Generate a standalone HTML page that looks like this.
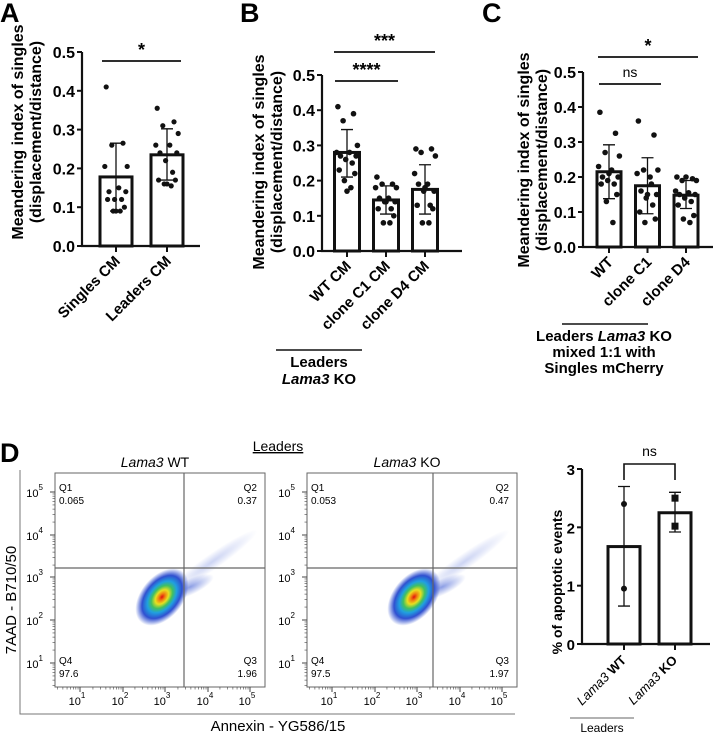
<!DOCTYPE html>
<html><head><meta charset="utf-8"><style>
body{margin:0;background:#fff}
svg{display:block;font-family:"Liberation Sans",Arial,sans-serif}
.t{font-weight:bold;font-size:16px}
.tk{font-weight:bold;font-size:16px}
.xk{font-weight:bold;font-size:15px}
.f{font-size:10px}
</style></head><body>
<svg id="s" width="713" height="735" viewBox="0 0 713 735">
<defs>
<radialGradient id="cloud">
<stop offset="0" stop-color="#e01010"/>
<stop offset="0.12" stop-color="#f08010"/>
<stop offset="0.25" stop-color="#e8e020"/>
<stop offset="0.4" stop-color="#40c060"/>
<stop offset="0.55" stop-color="#20a0e0"/>
<stop offset="0.75" stop-color="#3050d0"/>
<stop offset="1" stop-color="#3050d0" stop-opacity="0"/>
</radialGradient>
<radialGradient id="tail">
<stop offset="0" stop-color="#3050d0" stop-opacity="0.7"/>
<stop offset="1" stop-color="#3050d0" stop-opacity="0"/>
</radialGradient>
</defs>
<g font-weight="bold" font-size="27">
<text x="0" y="22">A</text>
<text x="240" y="22">B</text>
<text x="482" y="22">C</text>
<text x="0" y="462">D</text>
</g>
<g id="g"></g>
</svg>
<script>
// ---- Panel A data
const aCats=["Singles CM","Leaders CM"];
const aMeans=[0.178,0.235];
const aLo=[0.09,0.17];
const aHi=[0.265,0.302];
const aPts=[[0.41,0.265,0.26,0.205,0.205,0.15,0.14,0.14,0.12,0.12,0.12,0.1,0.09,0.09,0.09],
[0.355,0.32,0.31,0.29,0.26,0.26,0.24,0.24,0.22,0.19,0.17,0.17,0.16,0.155,0.16]];
// ---- Panel B data
const bCats=["WT CM","clone C1 CM","clone D4 CM"];
const bMeans=[0.28,0.145,0.175];
const bLo=[0.21,0.105,0.105];
const bHi=[0.345,0.185,0.245];
const bPts=[[0.41,0.39,0.37,0.3,0.28,0.28,0.27,0.27,0.26,0.25,0.23,0.22,0.2,0.18,0.17],
[0.21,0.19,0.19,0.18,0.18,0.15,0.15,0.14,0.14,0.12,0.12,0.1,0.08,0.08,0.14],
[0.29,0.29,0.28,0.27,0.22,0.19,0.19,0.17,0.17,0.13,0.13,0.12,0.08,0.08,0.18]];
// ---- Panel C data
const cCats=["WT","clone C1","clone D4"];
const cMeans=[0.215,0.175,0.148];
const cLo=[0.138,0.095,0.11];
const cHi=[0.292,0.255,0.19];
const cPts=[[0.385,0.325,0.27,0.26,0.23,0.22,0.2,0.2,0.19,0.18,0.18,0.15,0.13,0.07,0.21],
[0.36,0.32,0.22,0.22,0.21,0.2,0.16,0.15,0.14,0.12,0.1,0.08,0.07,0.18,0.15],
[0.2,0.195,0.19,0.19,0.16,0.155,0.15,0.15,0.14,0.13,0.12,0.09,0.08,0.07,0.2]];
const yTicks=[0,0.1,0.2,0.3,0.4,0.5];
// ---- Panel D bar data
const dCats=["WT","KO"];
const dMeans=[1.67,2.25];
const dLo=[0.65,1.92];
const dHi=[2.7,2.6];
const dPts=[[2.4,0.95],[2.5,2.02]];
const dTicks=[0,1,2,3];
// ---- Flow quadrant values
const flowQ=[["0.065","0.37","97.6","1.96"],["0.053","0.47","97.5","1.97"]];

const NS="http://www.w3.org/2000/svg";
const G=document.getElementById('g');
function el(tag,at,parent,txt){const e=document.createElementNS(NS,tag);for(const k in at)e.setAttribute(k,at[k]);if(txt!==undefined)e.textContent=txt;(parent||G).appendChild(e);return e;}
const jit=[-7,5,-3,8,-8,2,-5,7,-1,4,-6,6,-2,3,0];

function barPanel(o){
  const g=el('g',{});
  
  
  const y=v=>o.y0-(v-o.vmin)/(o.vmax-o.vmin)*(o.y0-o.y1);
  const x=i=>o.xs+i*o.step;
  const ax=el('path',{d:`M${o.ax} ${y(o.vmax)}V${o.y0}H${o.xEnd}`,stroke:'#111','stroke-width':2.2,fill:'none'},g);
  
  o.ticks.forEach(t=>{
    el('line',{x1:o.ax-5,x2:o.ax,y1:y(t),y2:y(t),stroke:'#111','stroke-width':2},g);
    const lb=el('text',{x:o.ax-7,y:y(t)+6,'text-anchor':'end',class:o.tcls||'tk'},g,o.tf(t));
    
  });
  o.means.forEach((m,i)=>{
    const cx=x(i);
    const b=el('rect',{x:cx-o.bw/2,y:y(m),width:o.bw,height:o.y0-y(m),fill:'#fff',stroke:'#111','stroke-width':3},g);
    
    el('line',{x1:cx,x2:cx,y1:o.y0,y2:o.y0+6,stroke:'#111','stroke-width':2},g);
    el('path',{d:`M${cx} ${y(o.lo[i])}V${y(o.hi[i])}M${cx-6} ${y(o.lo[i])}h12M${cx-6} ${y(o.hi[i])}h12`,stroke:'#111','stroke-width':1.3,fill:'none'},g);
    o.pts[i].forEach((p,k)=>{
      const d=el('circle',{cx:cx+(o.noj?0:jit[k%15]*o.js),cy:y(p),r:o.r||2.6,fill:'#111'},g);
      
    });
  });
  return {g,x,y};
}
function xLabel(g,x,y,txt){const t=el('text',{x:x,y:y,'text-anchor':'end',class:'xk',transform:`rotate(-45 ${x} ${y})`},g,txt);return t;}
function yTitle(g,cx,cy,l1,l2){
  const t=el('text',{transform:`translate(${cx},${cy}) rotate(-90)`,'text-anchor':'middle',class:'t'},g);
  
  el('tspan',{x:0,y:0},t,l1);el('tspan',{x:0,y:18},t,l2);
}
function sig(g,x1,x2,yy,txt,big){
  el('line',{x1:x1,x2:x2,y1:yy,y2:yy,stroke:'#111','stroke-width':1.8},g);
  const t=el('text',{x:(x1+x2)/2,y:yy-(big?5:7),'text-anchor':'middle','font-size':big?18:14,'font-weight':big?'bold':'normal'},g,txt);
  
}
const f1=t=>t.toFixed(1);

// A
let A=barPanel({name:'panel-a-chart',y0:246,y1:52,vmin:0,vmax:0.5,ax:82,xEnd:200,xs:116,step:51,bw:32,means:aMeans,lo:aLo,hi:aHi,pts:aPts,ticks:yTicks,tf:f1,js:1.4});
yTitle(A.g,23,132,"Meandering index of singles","(displacement/distance)");
aCats.forEach((c,i)=>xLabel(A.g,A.x(i)+5,262,c));
sig(A.g,102,181,61,"*",true);
// B
let B=barPanel({name:'panel-b-chart',y0:251,y1:75,vmin:0,vmax:0.5,ax:322,xEnd:462,xs:347,step:39,bw:25,means:bMeans,lo:bLo,hi:bHi,pts:bPts,ticks:yTicks,tf:f1,js:1.3,r:2.8});
yTitle(B.g,264,162,"Meandering index of singles","(displacement/distance)");
bCats.forEach((c,i)=>xLabel(B.g,B.x(i)+5,267,c));
sig(B.g,335,398,81,"****",true);
sig(B.g,334,435,52,"***",true);
el('line',{x1:276,x2:362,y1:350,y2:350,stroke:'#111','stroke-width':1.5},B.g);
el('text',{x:319,y:367,'text-anchor':'middle',class:'xk'},B.g,"Leaders");
let tB=el('text',{x:319,y:384,'text-anchor':'middle',class:'xk'},B.g);
el('tspan',{'font-style':'italic'},tB,"Lama3");el('tspan',{},tB," KO");
// C
let C=barPanel({name:'panel-c-chart',y0:247,y1:72,vmin:0,vmax:0.5,ax:583,xEnd:713,xs:609,step:38.5,bw:24,means:cMeans,lo:cLo,hi:cHi,pts:cPts,ticks:yTicks,tf:f1,js:1.3,r:2.8});
yTitle(C.g,529,160,"Meandering index of singles","(displacement/distance)");
cCats.forEach((c,i)=>xLabel(C.g,C.x(i)+5,263,c));
sig(C.g,599,661,84,"ns",false);
sig(C.g,598,698,57,"*",true);
el('line',{x1:562,x2:648,y1:324,y2:324,stroke:'#111','stroke-width':1.5},C.g);
let tC=el('text',{x:604,y:341,'text-anchor':'middle',class:'xk'},C.g);
el('tspan',{},tC,"Leaders ");el('tspan',{'font-style':'italic'},tC,"Lama3");el('tspan',{},tC," KO");
el('text',{x:604,y:357,'text-anchor':'middle',class:'xk'},C.g,"mixed 1:1 with");
el('text',{x:604,y:373,'text-anchor':'middle',class:'xk'},C.g,"Singles mCherry");

// D flow plots
const fg=el('g',{});

el('text',{x:278,y:451,'text-anchor':'middle','font-size':14,'text-decoration':'underline'},fg,"Leaders");
el('path',{d:'M20 470V714H515',stroke:'#777','stroke-width':1,fill:'none'},fg);
let yl=el('text',{transform:'translate(16,600) rotate(-90)','text-anchor':'middle','font-size':15},fg,"7AAD - B710/50");

let xl=el('text',{x:278,y:731,'text-anchor':'middle','font-size':15},fg,"Annexin - YG586/15");

const pw=210, ph=214, pts0=[55,307];
const decY=[492,535,577,620,663], decX=[80,123,165,208,250];
["WT","KO"].forEach((nm,p)=>{
  const L=pts0[p], T=473, off=L-55;
  const pg=el('g',{},fg);
  
  let tt=el('text',{x:L+pw/2-5,y:467,'text-anchor':'middle','font-size':14},pg);
  el('tspan',{'font-style':'italic'},tt,"Lama3");el('tspan',{},tt," "+nm);
  el('rect',{x:L,y:T,width:pw,height:ph,fill:'#fff',stroke:'#666','stroke-width':1},pg);
  const cx=162+off, cy=597;
  el('ellipse',{cx:cx+50,cy:cy-35,rx:55,ry:8,fill:'url(#tail)',opacity:0.35,transform:`rotate(-35 ${cx+50} ${cy-35})`},pg);
  el('ellipse',{cx:cx+28,cy:cy-10,rx:26,ry:8,fill:'url(#tail)',opacity:0.8,transform:`rotate(-25 ${cx+28} ${cy-10})`},pg);
  el('ellipse',{cx:cx,cy:cy,rx:21,ry:33,fill:'url(#cloud)',transform:`rotate(40 ${cx} ${cy})`},pg);
  const qx=(p?433:184), qy=568;
  el('line',{x1:qx,x2:qx,y1:T,y2:T+ph,stroke:'#666','stroke-width':1.2},pg);
  el('line',{x1:L,x2:L+pw,y1:qy,y2:qy,stroke:'#666','stroke-width':1.2},pg);
  const q=flowQ[p];
  el('text',{x:L+4,y:491,class:'f'},pg,"Q1");el('text',{x:L+4,y:504,class:'f'},pg,q[0]);
  el('text',{x:L+pw-8,y:491,class:'f','text-anchor':'end'},pg,"Q2");el('text',{x:L+pw-8,y:504,class:'f','text-anchor':'end'},pg,q[1]);
  el('text',{x:L+4,y:664,class:'f'},pg,"Q4");el('text',{x:L+4,y:677,class:'f'},pg,q[2]);
  el('text',{x:L+pw-8,y:664,class:'f','text-anchor':'end'},pg,"Q3");el('text',{x:L+pw-8,y:677,class:'f','text-anchor':'end'},pg,q[3]);
  decY.forEach((yy,i)=>{
    el('line',{x1:L-5,x2:L,y1:yy,y2:yy,stroke:'#444'},pg);
    for(let k=1;k<9;k++){const m=yy+43*(1-Math.log10(k+1));if(m<T+ph&&m>T)el('line',{x1:L-2.5,x2:L,y1:m,y2:m,stroke:'#444','stroke-width':0.6},pg);}
    const t=el('text',{x:L-12,y:yy+5,'text-anchor':'end','font-size':11},pg,"10");
    el('tspan',{dy:-7,'font-size':8},t,String(5-i));
  });
  decX.forEach((xx,i)=>{
    const X=xx+off;
    el('line',{x1:X,x2:X,y1:T+ph,y2:T+ph+5,stroke:'#444'},pg);
    for(let k=1;k<9;k++){const m=X-43*(1-Math.log10(k+1));if(m>L)el('line',{x1:m,x2:m,y1:T+ph,y2:T+ph+2.5,stroke:'#444','stroke-width':0.6},pg);}
    const t=el('text',{x:X-3,y:705,'text-anchor':'middle','font-size':11},pg,"10");
    el('tspan',{dy:-7,'font-size':8},t,String(i+1));
  });
});

// D bar chart
let D=barPanel({name:'panel-d-bar-chart',y0:644,y1:469,vmin:0,vmax:3,ax:582,xEnd:710,xs:624,step:51,bw:32,means:dMeans,lo:dLo,hi:dHi,pts:[dPts[0],[]],ticks:dTicks,tf:t=>String(t),noj:true,r:3,tcls:'xk'});
dPts[1].forEach(p=>{const r=el('rect',{x:D.x(1)-3.5,y:D.y(p)-3.5,width:7,height:7,fill:'#111'},D.g);});
let dt=el('text',{transform:'translate(562,582) rotate(-90)','text-anchor':'middle','font-size':14,'font-weight':'bold'},D.g,"% of apoptotic events");

el('path',{d:`M${D.x(0)} 480V464H${D.x(1)}V480`,stroke:'#111','stroke-width':1.6,fill:'none'},D.g);
el('text',{x:(D.x(0)+D.x(1))/2,y:456,'text-anchor':'middle','font-size':14},D.g,"ns");
dCats.forEach((c,i)=>{const X=D.x(i)+3,Y=661;const t=el('text',{x:X,y:Y,'text-anchor':'end','font-size':13,transform:`rotate(-45 ${X} ${Y})`},D.g);

el('tspan',{'font-style':'italic'},t,"Lama3 ");el('tspan',{'font-weight':'bold'},t,c);});
el('line',{x1:570,x2:634,y1:718,y2:718,stroke:'#666','stroke-width':1},D.g);
el('text',{x:602,y:732,'text-anchor':'middle','font-size':12},D.g,"Leaders");
</script>
</body></html>
